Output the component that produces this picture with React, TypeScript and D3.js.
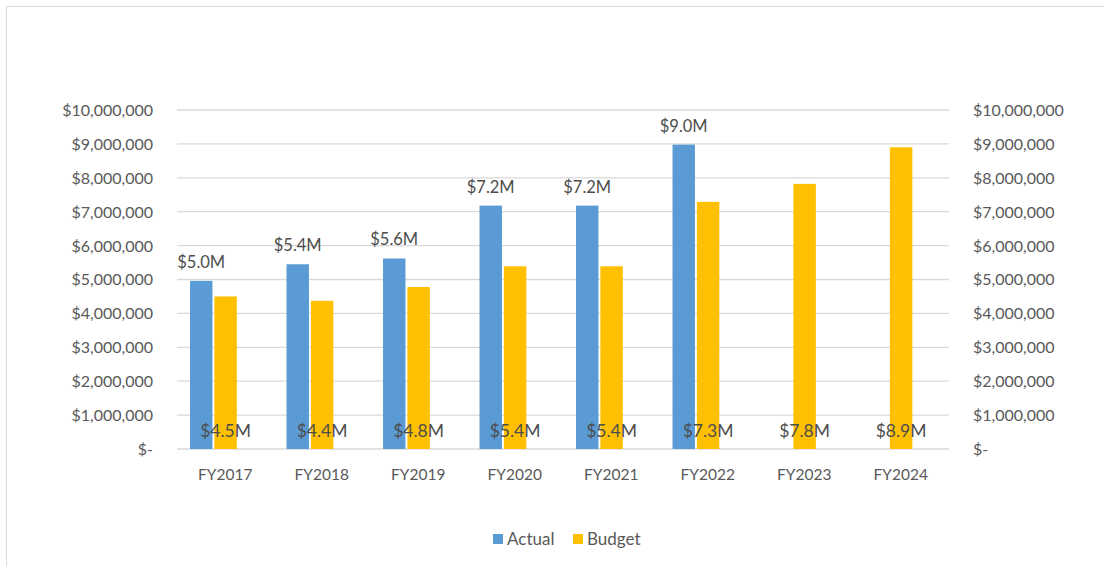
import React, { useRef, useEffect } from 'react';
import * as d3 from 'd3';

// Fiscal years on the x axis
const years = ['FY2017', 'FY2018', 'FY2019', 'FY2020', 'FY2021', 'FY2022', 'FY2023', 'FY2024'];

// Values in dollars (null = no actual yet)
const actual: (number | null)[] = [4960000, 5450000, 5620000, 7180000, 7180000, 8980000, null, null];
const budget: number[] = [4500000, 4370000, 4780000, 5390000, 5390000, 7290000, 7820000, 8900000];

// Data labels as printed on the chart
const actualLabels = ['$5.0M', '$5.4M', '$5.6M', '$7.2M', '$7.2M', '$9.0M', '', ''];
const budgetLabels = ['$4.5M', '$4.4M', '$4.8M', '$5.4M', '$5.4M', '$7.3M', '$7.8M', '$8.9M'];

const yTicks = [0, 1000000, 2000000, 3000000, 4000000, 5000000, 6000000, 7000000, 8000000, 9000000, 10000000];
const seriesNames = ['Actual', 'Budget'];

const ACTUAL_COLOR = '#5B9BD5';
const BUDGET_COLOR = '#FFC000';
const FONT = 'Lato, "Open Sans", sans-serif';

const W = 1104;
const H = 566;

export default function App() {
  const svgRef = useRef<SVGSVGElement>(null);

  useEffect(() => {
    const svg = d3.select(svgRef.current);
    svg.selectAll('*').remove();

    const left = 177, right = 949, top = 110, bottom = 449;

    // chart frame
    svg.append('rect')
      .attr('x', 6.5).attr('y', 6.5)
      .attr('width', W).attr('height', H)
      .attr('fill', '#fff')
      .attr('stroke', '#d9d9d9');

    const x = d3.scaleBand().domain(years).range([left, right]).padding(0);
    const step = x.bandwidth();
    const xs = d3.scaleBand().domain(seriesNames)
      .range([step * 0.135, step * 0.62]).paddingInner(0.08);
    const y = d3.scaleLinear().domain([0, 10000000]).range([bottom, top]);

    const fmt = (v: number) => (v === 0 ? '$-' : '$' + d3.format(',')(v));

    // gridlines
    svg.append('g')
      .selectAll('line')
      .data(yTicks)
      .enter()
      .append('line')
      .attr('x1', left).attr('x2', right)
      .attr('y1', d => y(d)).attr('y2', d => y(d))
      .attr('stroke', '#d9d9d9')
      .attr('stroke-width', 1.3);

    // left axis
    const leftAxis = svg.append('g')
      .attr('transform', `translate(${left - 21},0)`)
      .call(d3.axisLeft(y).tickValues(yTicks).tickFormat(d => fmt(+d)).tickSize(0));
    leftAxis.select('.domain').remove();

    // right axis
    const rightAxis = svg.append('g')
      .attr('transform', `translate(${right + 21},0)`)
      .call(d3.axisRight(y).tickValues(yTicks).tickFormat(d => fmt(+d)).tickSize(0));
    rightAxis.select('.domain').remove();

    [leftAxis, rightAxis].forEach(a => a.selectAll('text')
      .style('font-family', FONT)
      .style('font-size', '16px')
      .style('fill', '#595959')
      .attr('dy', '0.34em'));

    // x axis labels
    const xAxis = svg.append('g')
      .attr('transform', `translate(0,${bottom + 17})`)
      .call(d3.axisBottom(x).tickSize(0));
    xAxis.select('.domain').remove();
    xAxis.selectAll('text')
      .style('font-family', FONT)
      .style('font-size', '15.5px')
      .style('fill', '#595959')
      .attr('dy', '0.71em');

    // bars
    const idx = d3.range(years.length);
    svg.append('g')
      .selectAll('rect')
      .data(idx.filter(i => actual[i] != null))
      .enter()
      .append('rect')
      .attr('x', i => x(years[i])! + xs('Actual')!)
      .attr('width', xs.bandwidth())
      .attr('y', i => y(actual[i] as number))
      .attr('height', i => bottom - y(actual[i] as number))
      .attr('fill', ACTUAL_COLOR);

    svg.append('g')
      .selectAll('rect')
      .data(idx)
      .enter()
      .append('rect')
      .attr('x', i => x(years[i])! + xs('Budget')!)
      .attr('width', xs.bandwidth())
      .attr('y', i => y(budget[i]))
      .attr('height', i => bottom - y(budget[i]))
      .attr('fill', BUDGET_COLOR);

    // actual labels above bars
    svg.append('g')
      .selectAll('text')
      .data(idx.filter(i => actual[i] != null))
      .enter()
      .append('text')
      .attr('x', i => x(years[i])! + xs('Actual')! + xs.bandwidth() / 2)
      .attr('y', i => y(actual[i] as number) - 13)
      .attr('text-anchor', 'middle')
      .style('font-family', FONT)
      .style('font-size', '16.5px')
      .style('fill', '#4d4d4d')
      .text(i => actualLabels[i]);

    // budget labels at the base
    svg.append('g')
      .selectAll('text')
      .data(idx)
      .enter()
      .append('text')
      .attr('x', i => x(years[i])! + xs('Budget')! + xs.bandwidth() / 2)
      .attr('y', bottom - 12)
      .attr('text-anchor', 'middle')
      .style('font-family', FONT)
      .style('font-size', '17.5px')
      .style('fill', '#4d4d4d')
      .text(i => budgetLabels[i]);

    // legend
    const legend = svg.append('g').attr('transform', 'translate(493,534)');
    const items = [
      { name: 'Actual', color: ACTUAL_COLOR, x: 0 },
      { name: 'Budget', color: BUDGET_COLOR, x: 80 },
    ];
    items.forEach(it => {
      legend.append('rect')
        .attr('x', it.x).attr('y', 0)
        .attr('width', 10).attr('height', 10)
        .attr('fill', it.color);
      legend.append('text')
        .attr('x', it.x + 14).attr('y', 11)
        .style('font-family', FONT)
        .style('font-size', '17px')
        .style('fill', '#595959')
        .text(it.name);
    });
  }, []);

  return (
    <svg
      ref={svgRef}
      width={W}
      height={H}
      style={{ position: 'absolute', left: 0, top: 0, background: '#fff' }}
    />
  );
}
